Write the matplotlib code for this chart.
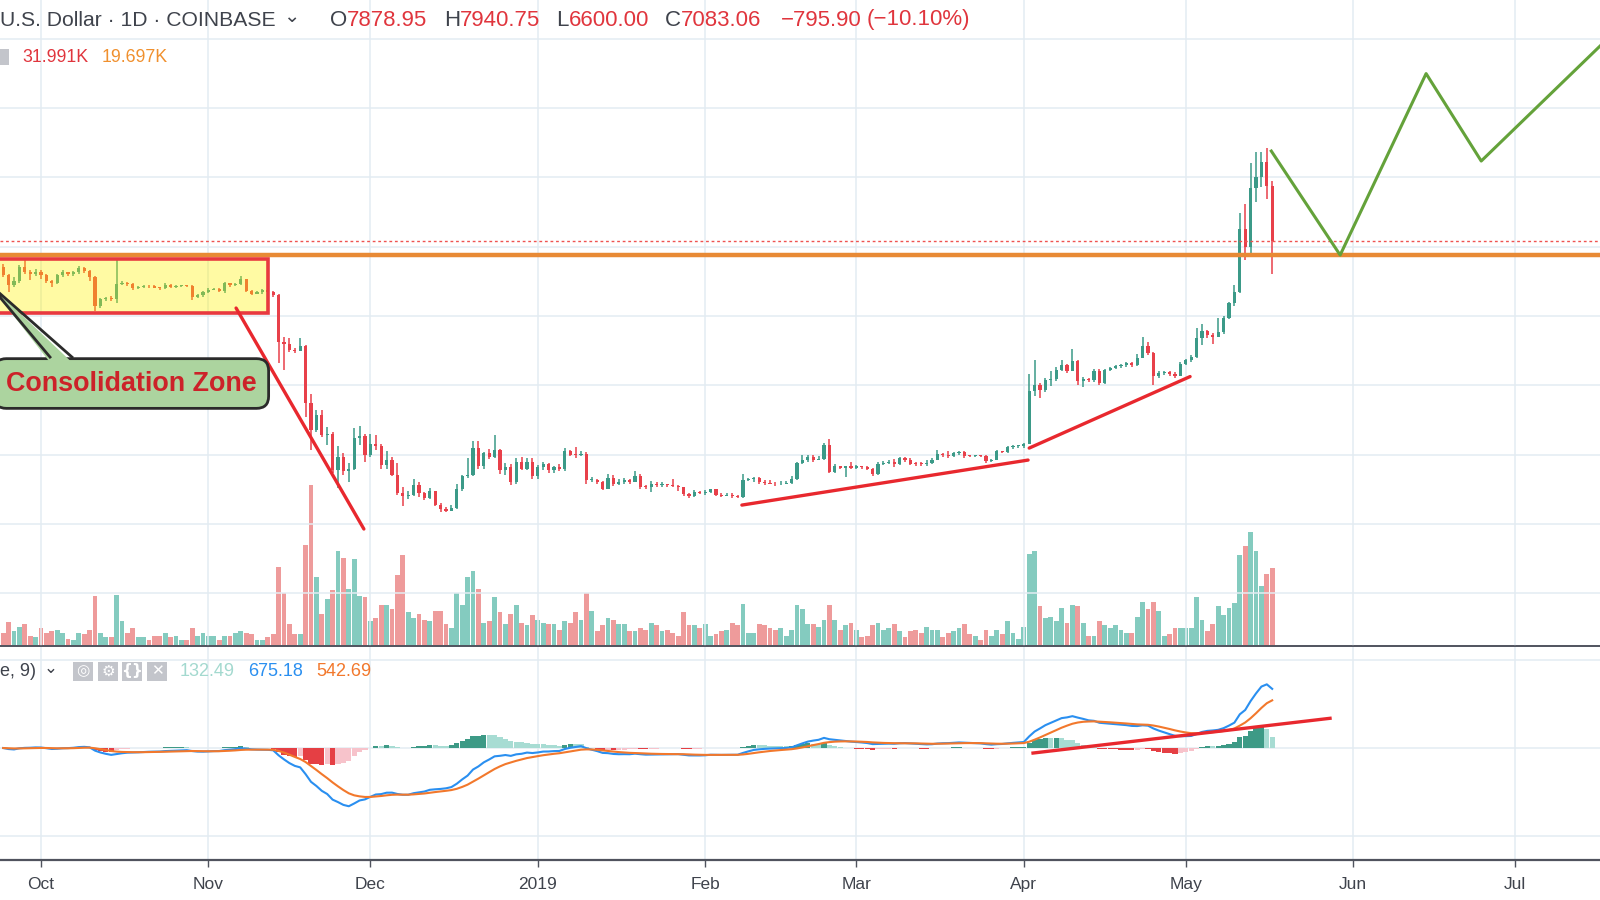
import numpy as np
import pandas as pd
import matplotlib
matplotlib.use("Agg")
import matplotlib.pyplot as plt
import matplotlib.dates as mdates
from matplotlib.patches import Rectangle, Polygon, FancyBboxPatch

plt.rcParams.update({
    "font.family": ["Liberation Sans", "DejaVu Sans"],
    "axes.linewidth": 1.2,
})

W, H = 1600, 900

# -----------------------------------------------------------------------------
# Daily BTC/USD candles (Coinbase), 2018-09-24 .. 2019-05-17
# -----------------------------------------------------------------------------
FIRST_OPEN = 6710

close_sep = [6590, 6445, 6500, 6705, 6640, 6610, 6640]
high_sep = [6750, 6610, 6560, 6730, 6800, 6660, 6670]
low_sep = [6560, 6350, 6420, 6480, 6600, 6520, 6580]
vol_sep = [5.5, 9.7, 6.0, 7.8, 9.0, 4.2, 3.7]

close_oct = [6590, 6510, 6470, 6590, 6630, 6600, 6630, 6690, 6650, 6560, 6140,
             6240, 6250, 6240, 6460, 6480, 6460, 6410, 6415, 6430, 6425, 6410,
             6400, 6450, 6420, 6430, 6440, 6430, 6280, 6300, 6340]
high_oct = [6660, 6610, 6520, 6610, 6660, 6640, 6650, 6720, 6700, 6660, 6570,
            6260, 6270, 6290, 6830, 6500, 6490, 6480, 6430, 6440, 6450, 6440,
            6420, 6470, 6460, 6450, 6450, 6450, 6440, 6320, 6360]
low_oct = [6530, 6480, 6420, 6460, 6560, 6570, 6570, 6600, 6620, 6500, 6075,
           6120, 6220, 6220, 6190, 6440, 6430, 6380, 6390, 6400, 6410, 6400,
           6380, 6390, 6400, 6410, 6420, 6420, 6230, 6260, 6280]
vol_oct = [7.2, 5.5, 6.0, 6.6, 5.5, 3.0, 2.5, 5.5, 4.8, 6.6, 20.5, 5.5, 3.7, 3.7,
           21.0, 10.2, 5.5, 7.2, 3.7, 3.7, 2.5, 4.2, 4.2, 5.5, 3.7, 4.2, 2.5, 2.5,
           7.2, 4.2, 5.5]

close_nov = [6380, 6390, 6360, 6470, 6450, 6460, 6530, 6360, 6320, 6350, 6370,
             6350, 6300, 5630, 5600, 5510, 5500, 5570, 4740, 4360, 4570, 4280,
             4300, 3780, 3970, 3760, 3790, 4240, 4270, 4000]
high_nov = [6400, 6410, 6400, 6490, 6480, 6480, 6570, 6540, 6370, 6360, 6390,
            6380, 6360, 6320, 5700, 5680, 5540, 5680, 5580, 4880, 4640, 4640,
            4400, 4330, 4120, 4020, 3880, 4380, 4420, 4300]
low_nov = [6330, 6370, 6340, 6330, 6420, 6430, 6450, 6340, 6300, 6310, 6320,
           6330, 6280, 5320, 5220, 5480, 5460, 5490, 4540, 4070, 4330, 4260,
           4140, 3740, 3520, 3700, 3610, 3780, 4140, 3900]
vol_nov = [4.2, 4.2, 2.5, 4.2, 4.2, 5.5, 6.0, 5.5, 4.8, 2.5, 2.5, 3.7, 4.8, 32.5,
           21.6, 9.0, 4.8, 4.8, 41.4, 66.0, 28.3, 13.1, 19.3, 23.0, 39.1, 36.1,
           23.5, 35.5, 20.5, 20.0]

close_dec = [4160, 4130, 3850, 3930, 3710, 3440, 3400, 3420, 3560, 3440, 3380,
             3470, 3280, 3210, 3190, 3230, 3510, 3690, 3700, 4090, 3830, 4030,
             3960, 4070, 3780, 3820, 3600, 3900, 3800, 3900, 3690]
high_dec = [4300, 4280, 4160, 4060, 3960, 3880, 3540, 3470, 3650, 3600, 3460,
            3520, 3480, 3300, 3240, 3280, 3570, 3700, 3950, 4200, 4200, 4040,
            4080, 4280, 4080, 3880, 3860, 3950, 3960, 3950, 3950]
low_dec = [3970, 4070, 3800, 3800, 3690, 3420, 3260, 3360, 3400, 3390, 3350,
           3360, 3260, 3180, 3175, 3190, 3220, 3480, 3660, 3690, 3800, 3800,
           3940, 3950, 3720, 3710, 3560, 3580, 3780, 3780, 3650]
vol_dec = [10.2, 11.5, 16.8, 16.8, 15.0, 29.0, 37.3, 13.8, 11.5, 13.3, 10.8,
           10.2, 14.5, 14.5, 9.0, 7.2, 21.6, 16.8, 28.3, 30.7, 23.5, 9.6, 10.2,
           19.9, 13.8, 9.0, 13.3, 16.8, 9.6, 8.5, 12.6]

close_jan = [3820, 3870, 3780, 3820, 3790, 4050, 4000, 3990, 4010, 3630, 3640,
             3610, 3510, 3660, 3570, 3610, 3640, 3610, 3690, 3540, 3530, 3580,
             3560, 3580, 3560, 3550, 3530, 3430, 3400, 3460, 3440]
high_jan = [3850, 3900, 3880, 3840, 3870, 4090, 4070, 4110, 4060, 4040, 3680,
            3650, 3620, 3720, 3710, 3650, 3660, 3650, 3770, 3720, 3560, 3620,
            3610, 3600, 3580, 3650, 3560, 3540, 3440, 3490, 3480]
low_jan = [3650, 3780, 3740, 3730, 3770, 3770, 3980, 3950, 3980, 3580, 3600,
           3580, 3490, 3500, 3550, 3560, 3570, 3570, 3610, 3510, 3500, 3460,
           3530, 3540, 3530, 3540, 3480, 3400, 3380, 3390, 3430]
vol_jan = [10.8, 9.6, 9.0, 9.0, 6.7, 10.2, 9.6, 13.8, 10.8, 21.6, 14.5, 6.0, 8.5,
           11.5, 10.8, 9.0, 9.0, 6.0, 6.0, 7.2, 6.6, 9.6, 8.5, 6.0, 6.6, 5.5,
           4.2, 13.8, 8.5, 8.5, 7.2]

close_feb = [3460, 3500, 3420, 3410, 3420, 3400, 3390, 3640, 3650, 3670, 3600,
             3590, 3580, 3570, 3575, 3590, 3650, 3880, 3930, 3970, 3930, 3940,
             4140, 3750, 3830, 3810, 3830, 3810]
high_feb = [3490, 3510, 3500, 3440, 3440, 3440, 3420, 3720, 3660, 3680, 3680,
            3630, 3640, 3600, 3620, 3620, 3690, 3900, 4000, 3990, 3990, 3980,
            4170, 4220, 3870, 3840, 3840, 3900]
low_feb = [3420, 3440, 3400, 3390, 3400, 3370, 3380, 3380, 3620, 3610, 3580,
           3560, 3570, 3550, 3560, 3570, 3580, 3640, 3860, 3900, 3900, 3920,
           3930, 3730, 3740, 3790, 3680, 3790]
vol_feb = [9.0, 4.2, 4.8, 6.0, 6.6, 9.6, 8.5, 17.3, 5.5, 5.5, 9.0, 8.5, 7.2, 6.6,
           7.2, 4.2, 6.6, 16.8, 15.0, 9.0, 9.0, 7.9, 10.8, 16.8, 10.8, 6.6, 8.5,
           9.6]

close_mar = [3830, 3820, 3800, 3720, 3870, 3880, 3890, 3860, 3950, 3930, 3870,
             3865, 3860, 3875, 3930, 4010, 3990, 3980, 4020, 4040, 3980, 3975,
             3990, 3980, 3910, 3930, 4050, 4040, 4110, 4120, 4125]
high_mar = [3850, 3840, 3830, 3810, 3890, 3910, 3920, 3940, 3970, 3960, 3950,
            3900, 3890, 3920, 3950, 4070, 4020, 4050, 4040, 4060, 4060, 4000,
            4000, 4000, 3990, 3940, 4070, 4060, 4120, 4140, 4130]
low_mar = [3800, 3800, 3780, 3690, 3710, 3850, 3860, 3820, 3850, 3900, 3850,
           3840, 3840, 3840, 3870, 3920, 3960, 3950, 3970, 4000, 3950, 3960,
           3970, 3960, 3880, 3900, 3920, 4020, 4030, 4080, 4100]
vol_mar = [6.6, 3.7, 4.2, 8.5, 9.6, 6.6, 7.2, 9.0, 6.0, 3.7, 6.0, 6.6, 5.5, 7.8,
           6.6, 6.6, 3.7, 5.5, 6.0, 7.2, 9.0, 4.8, 4.2, 2.5, 6.6, 4.2, 6.6, 4.8,
           10.2, 5.5, 3.0]

close_apr = [4160, 4920, 5000, 4930, 5080, 5090, 5220, 5300, 5210, 5350, 5060,
             5090, 5070, 5210, 5030, 5220, 5250, 5280, 5290, 5320, 5300, 5400,
             5560, 5460, 5140, 5180, 5190, 5170, 5140, 5310]
high_apr = [4170, 5160, 5370, 5030, 5100, 5200, 5270, 5360, 5310, 5520, 5360,
            5120, 5110, 5230, 5230, 5240, 5270, 5300, 5310, 5330, 5340, 5450,
            5700, 5620, 5480, 5210, 5200, 5210, 5190, 5330]
low_apr = [4100, 4150, 4850, 4820, 4910, 4990, 5060, 5200, 5180, 5200, 5000,
           4980, 5050, 5050, 5000, 5020, 5200, 5240, 5250, 5270, 5260, 5280,
           5390, 5430, 5000, 5100, 5150, 5140, 5110, 5130]
vol_apr = [7.8, 37.8, 39.1, 16.3, 11.5, 12.0, 10.2, 15.6, 9.6, 16.8, 16.3, 9.6,
           4.2, 4.2, 10.2, 8.5, 7.2, 8.5, 6.6, 5.5, 5.5, 12.0, 18.0, 15.0, 18.0,
           14.5, 4.2, 4.8, 7.2, 7.2]

close_may = [5360, 5410, 5680, 5790, 5730, 5700, 5770, 5970, 6180, 6350, 7250,
             6990, 7840, 8010, 8220, 7878.95, 7083.06]
high_may = [5380, 5440, 5820, 5890, 5800, 5760, 5970, 6000, 6200, 6450, 7480,
            7610, 8200, 8370, 8370, 8420, 7940.75]
low_may = [5300, 5340, 5400, 5580, 5680, 5600, 5690, 5740, 5950, 6150, 6330,
           6800, 6910, 7650, 7860, 7680, 6600.00]
vol_may = [7.2, 7.2, 19.9, 10.8, 6.0, 9.0, 16.3, 12.6, 15.6, 17.5, 37.3, 40.8,
           46.8, 39.1, 24.6, 29.5, 31.991]

CLOSE = np.array(close_sep + close_oct + close_nov + close_dec + close_jan
                 + close_feb + close_mar + close_apr + close_may, dtype=float)
HIGH = np.array(high_sep + high_oct + high_nov + high_dec + high_jan
                + high_feb + high_mar + high_apr + high_may, dtype=float)
LOW = np.array(low_sep + low_oct + low_nov + low_dec + low_jan
               + low_feb + low_mar + low_apr + low_may, dtype=float)
VOLUME = np.array(vol_sep + vol_oct + vol_nov + vol_dec + vol_jan
                  + vol_feb + vol_mar + vol_apr + vol_may, dtype=float)  # K BTC
OPEN = np.concatenate([[FIRST_OPEN], CLOSE[:-1]])
DATES = pd.date_range("2018-09-24", periods=len(CLOSE), freq="D")

# drawn annotations (date, price)
RESISTANCE = 6880
ZONE = ("2018-09-12", "2018-11-12", 6040, 6820)
TRENDLINES = [
    (("2018-11-06 03:00", 6114), ("2018-11-29 19:00", 2928)),
    (("2019-02-07 19:00", 3273), ("2019-04-01 19:00", 3922)),
    (("2019-04-02 00:00", 4095), ("2019-05-01 19:00", 5126)),
]
PROJ_DATES = ["2019-05-16 20:00", "2019-05-29 14:00", "2019-06-14 12:00",
              "2019-06-24 17:00", "2019-07-16 17:00"]
PROJ_PRICES = [8378, 6878, 9495, 8234, 9892]
MACD_TREND = (("2019-04-02 17:00", -57), ("2019-05-27 17:00", 338))

MONTHS = ["2018-10-01", "2018-11-01", "2018-12-01", "2019-01-01", "2019-02-01",
          "2019-03-01", "2019-04-01", "2019-05-01", "2019-06-01", "2019-07-01"]
MONTH_LABELS = ["Oct", "Nov", "Dec", "2019", "Feb", "Mar", "Apr", "May", "Jun", "Jul"]

# colours
UP, DOWN = "#3b9a88", "#e8404a"
VOL_UP, VOL_DOWN = "#84cbbf", "#ee9b9b"
GRID = "#e3ecf2"
TXT = "#3f434c"
RED_TXT = "#e0353d"

# -----------------------------------------------------------------------------
# MACD (12, 26, close, 9)
# -----------------------------------------------------------------------------
cs = pd.Series(CLOSE, index=DATES)
macd = cs.ewm(span=12, adjust=False).mean() - cs.ewm(span=26, adjust=False).mean()
signal = macd.ewm(span=9, adjust=False).mean()
hist = macd - signal
prev = hist.shift(1).fillna(0)
hist_cols = np.where(hist >= 0,
                     np.where(hist > prev, "#3d9a86", "#a7dcd3"),
                     np.where(hist < prev, "#e53f44", "#f7c3cb"))

# -----------------------------------------------------------------------------
# Figure layout (pixel-exact panes)
# -----------------------------------------------------------------------------
fig = plt.figure(figsize=(16, 9), dpi=100)
fig.patch.set_facecolor("white")
ax = fig.add_axes([0, 1 - 646 / H, 1, 646 / H])
axv = ax.twinx()
axm = fig.add_axes([0, 40 / H, 1, 214 / H], sharex=ax)

ax.set_zorder(2)
axv.set_zorder(1)
ax.patch.set_visible(False)
axv.patch.set_facecolor("white")

x = mdates.date2num(DATES)
x0 = mdates.date2num(pd.Timestamp("2018-10-01"))
ax.set_xlim(x0 - 41 / 5.4, x0 + (W - 41) / 5.4)
ax.set_ylim(1241, 10556)
axv.set_ylim(0, 264.8)
axm.set_ylim(-1273, 1160)

# grid
month_x = mdates.date2num(pd.to_datetime(MONTHS))
for a in (ax, axm):
    for mx in month_x:
        a.axvline(mx, color=GRID, lw=1.1, zorder=0)
for p in range(2000, 11000, 1000):
    ax.axhline(p, color=GRID, lw=1.1, zorder=0)
for m in (-1000, 0, 1000):
    axm.axhline(m, color=GRID, lw=1.1, zorder=0)

# volume
up = CLOSE >= OPEN
axv.bar(x, VOLUME, width=0.92, color=np.where(up, VOL_UP, VOL_DOWN),
        linewidth=0, zorder=2)

# candles
body = np.maximum(np.abs(CLOSE - OPEN), 14)
cols = np.where(up, UP, DOWN)
ax.vlines(x, LOW, HIGH, colors=cols, lw=1.1, zorder=3)
ax.bar(x, body, bottom=np.minimum(OPEN, CLOSE), width=0.62, color=cols,
       linewidth=0, zorder=3)

# horizontal levels
ax.axhline(RESISTANCE, color="#e88a35", lw=3.2, zorder=4)
ax.axhline(CLOSE[-1], color="#ef5350", lw=1.0, ls=(0, (2, 2)), zorder=4)

# consolidation zone
zs, ze, zb, zt = ZONE
zx0 = mdates.date2num(pd.Timestamp(zs))
zx1 = mdates.date2num(pd.Timestamp(ze))
ax.add_patch(Rectangle((zx0, zb), zx1 - zx0, zt - zb, fc="#fff200", alpha=0.36,
                       ec="none", zorder=5))
ax.add_patch(Rectangle((zx0, zb), zx1 - zx0, zt - zb, fill=False,
                       ec="#e8393f", lw=2.6, zorder=5))

# trend lines
for (d0, p0), (d1, p1) in TRENDLINES:
    ax.plot(pd.to_datetime([d0, d1]), [p0, p1], color="#e8282e", lw=2.4,
            solid_capstyle="round", zorder=6)

# projection zigzag
ax.plot(pd.to_datetime(PROJ_DATES), PROJ_PRICES, color="#64a23a", lw=2.2,
        zorder=6)

# callout
ax.text(mdates.date2num(pd.Timestamp("2018-10-17 18:00")), 5026,
        "Consolidation Zone", ha="center", va="center", fontsize=19.4,
        fontweight="bold", color="#cc2229", zorder=7,
        bbox=dict(boxstyle="round,pad=0.44,rounding_size=0.45", fc="#acd49f",
                  ec="#2b2b2b", lw=2))
tip = (x0 - 9.8, 6474)
b1 = (x0 + 1.67, 5407)
b2 = (x0 + 5.74, 5407)
ax.add_patch(Polygon([tip, (b1[0], 5330), (b2[0], 5330)], closed=True,
                     fc="#acd49f", ec="none", zorder=7.5))
ax.plot([b1[0], tip[0], b2[0]], [b1[1], tip[1], b2[1]], color="#2b2b2b",
        lw=2, zorder=7.6, solid_joinstyle="miter")

# MACD pane
axm.bar(x, hist.values, width=1.0, color=hist_cols, linewidth=0, zorder=2)
axm.plot(x, macd.values, color="#2a8ff0", lw=1.5, zorder=3)
axm.plot(x, signal.values, color="#f2782c", lw=1.5, zorder=3)
(md0, mv0), (md1, mv1) = MACD_TREND
axm.plot(pd.to_datetime([md0, md1]), [mv0, mv1], color="#e8282e", lw=2.4,
         zorder=4)

# axes cosmetics
for a in (ax, axv):
    for s in ("top", "left", "right"):
        a.spines[s].set_visible(False)
    a.spines["bottom"].set_color("#50535e")
    a.set_yticks([])
for s in ("top", "left", "right"):
    axm.spines[s].set_visible(False)
axm.spines["bottom"].set_color("#50535e")
axm.spines["bottom"].set_linewidth(1.6)
axm.set_yticks([])
ax.tick_params(axis="x", length=0, labelbottom=False)
axv.tick_params(axis="x", length=0, labelbottom=False)
axm.set_xticks(month_x)
axm.set_xticklabels(MONTH_LABELS)
axm.tick_params(axis="x", length=5, width=1, color="#50535e", pad=7,
                labelsize=12.5, labelcolor=TXT)

# -----------------------------------------------------------------------------
# Header / legends (pixel positioned)
# -----------------------------------------------------------------------------
def fx(px):
    return px / W


def fy(py):
    return 1 - py / H


renderer = fig.canvas.get_renderer()


def run(x_px, y_px, parts, size):
    xx = x_px
    for s, col in parts:
        t = fig.text(fx(xx), fy(y_px), s, color=col, fontsize=size,
                     ha="left", va="center")
        xx = t.get_window_extent(renderer).x1


fig.text(fx(0), fy(20), "U.S. Dollar · 1D · COINBASE", fontsize=15.2, color=TXT,
         ha="left", va="center")
fig.text(fx(283), fy(17), "⌄", fontsize=14, color=TXT, ha="left", va="center",
         family=["DejaVu Sans"])
run(330, 20, [("O", TXT), ("7878.95", RED_TXT)], 16)
run(444, 20, [("H", TXT), ("7940.75", RED_TXT)], 16)
run(556, 20, [("L", TXT), ("6600.00", RED_TXT)], 16)
run(665, 20, [("C", TXT), ("7083.06", RED_TXT)], 16)
fig.text(fx(781), fy(20), "−795.90", fontsize=16, color=RED_TXT, ha="left",
         va="center")
fig.text(fx(867), fy(20), "(−10.10%)", fontsize=16, color=RED_TXT, ha="left",
         va="center")

fig.patches.append(Rectangle((0, fy(65)), fx(9), 16 / H, transform=fig.transFigure,
                             fc="#c3c5cb", ec="none"))
fig.text(fx(22), fy(57), "31.991K", fontsize=12.8, color=RED_TXT, ha="left",
         va="center")
fig.text(fx(102), fy(57), "19.697K", fontsize=12.8, color="#f0902e", ha="left",
         va="center")

fig.text(fx(0), fy(671), "e, 9)", fontsize=13, color=TXT, ha="left", va="center")
fig.text(fx(44), fy(668), "⌄", fontsize=12, color=TXT, ha="left", va="center",
         family=["DejaVu Sans"])
for cx, g in zip([83, 108, 132, 157], ["◎", "⚙", "{}", "✕"]):
    fig.patches.append(FancyBboxPatch((fx(cx - 10), fy(681)), fx(20), 19 / H,
                                      boxstyle="square,pad=0",
                                      transform=fig.transFigure,
                                      fc="#c3c5cb", ec="none"))
    fig.text(fx(cx), fy(671), g, fontsize=11, color="white", ha="center",
             va="center", family=["DejaVu Sans"], fontweight="bold")
fig.text(fx(180), fy(671), "132.49", fontsize=13, color="#a3d9cf", ha="left",
         va="center")
fig.text(fx(248), fy(671), "675.18", fontsize=13, color="#2a8ff0", ha="left",
         va="center")
fig.text(fx(316), fy(671), "542.69", fontsize=13, color="#f2782c", ha="left",
         va="center")

fig.savefig("out.png", dpi=100, facecolor="white")
